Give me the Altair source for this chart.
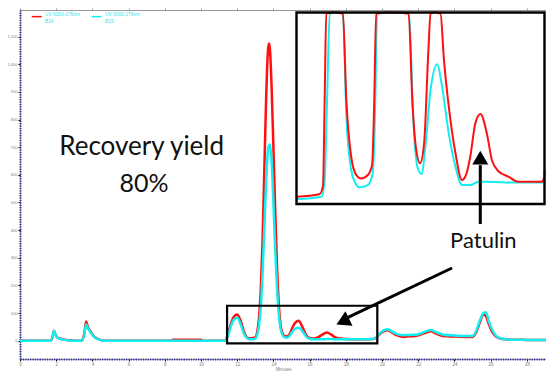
import altair as alt
import pandas as pd

# ---------------- data ----------------
main_time = [0, 1.7, 1.8, 1.88, 1.95, 2.05, 2.2, 2.4, 2.7, 3.0, 3.4, 3.55, 3.65, 3.75, 3.9, 4.1, 4.4, 4.7,
             8.35, 8.45, 10.0, 10.1, 11.3, 11.45, 11.6, 11.8, 12.0, 12.2, 12.4, 12.6, 12.8, 13.0, 13.1, 13.2,
             13.3, 13.4, 13.5, 13.6, 13.7, 13.75, 13.8, 13.9, 14.0, 14.1, 14.2, 14.3, 14.4, 14.5, 14.6, 14.75,
             14.9, 15.05, 15.2, 15.4, 15.6, 15.8, 16.0, 16.2, 16.45, 16.7, 16.95, 17.2, 17.45, 17.7, 18.0, 18.5,
             19.0, 19.5, 19.7, 19.9, 20.1, 20.3, 20.5, 20.8, 21.2, 21.5, 21.9, 22.2, 22.45, 22.7, 22.95, 23.4,
             24.0, 24.6, 25.0, 25.2, 25.4, 25.6, 25.75, 25.9, 26.1, 26.3, 26.55, 26.8, 27.1, 28.0, 29.5]
b14 = [0, 0, 15, 36, 25, 13, 8, 5, 2, 0, 0, 25, 70, 50, 33, 15, 4, 0,
       0, 4, 4, 0, 0, 15, 50, 85, 95, 70, 28, 10, 9, 12, 30, 80,
       180, 360, 620, 880, 1050, 1075, 1060, 920, 700, 470, 270, 130, 55, 28, 18, 15,
       25, 48, 65, 72, 50, 22, 10, 8, 12, 22, 30, 22, 11, 8, 6, 5,
       5, 6, 12, 25, 35, 38, 32, 20, 14, 16, 18, 24, 30, 34, 27, 17,
       15, 14, 14, 30, 65, 95, 88, 60, 30, 15, 8, 5, 4, 3, 2]
b15 = [0, 0, 15, 36, 25, 12, 7, 4, 1, 0, 0, 20, 60, 45, 30, 14, 3, 0,
       0, 0, 0, 0, 0, 12, 42, 75, 83, 58, 22, 7, 5, 7, 20, 55,
       120, 240, 410, 580, 690, 705, 710, 650, 500, 330, 190, 95, 42, 22, 13, 11,
       18, 33, 44, 47, 35, 16, 7, 5, 5, 5, 6, 6, 5, 5, 5, 5,
       5, 6, 14, 28, 38, 42, 36, 25, 20, 21, 22, 28, 35, 39, 32, 22,
       19, 17, 17, 35, 72, 100, 103, 70, 38, 18, 9, 5, 4, 3, 2]

# zoomed inset (same units: minutes / mAU)
inset_red_time = [10.17, 11.04, 11.16, 11.22, 11.28, 11.55, 11.9, 12.03, 12.21, 12.4, 12.58, 12.83, 12.99,
                  13.07, 13.14, 13.7, 14.35, 14.49, 14.62, 14.78, 14.93, 15.09, 15.17, 15.35, 15.54, 15.67,
                  15.85, 16.1, 16.34, 16.5, 16.65, 16.84, 17.03, 17.27, 17.46, 17.7, 18.07, 18.44, 19.31,
                  19.56, 19.74]
inset_red = [0.4, 1.3, 4.1, 31, 58.6, 95, 58.6, 31, 13.1, 7.3, 6.2, 7.3, 10.5,
             31, 58.6, 1075, 58.6, 31, 16.3, 11, 17.4, 47, 58.6, 70, 58.6, 43.8,
             29, 14.2, 5.7, 7.5, 13.1, 23.7, 26.7, 20.5, 12, 8.5, 6.8, 5.2, 5.2,
             6.8, 8.9]
inset_cyan_time = [10.17, 11.1, 11.22, 11.31, 11.41, 11.65, 11.9, 12.03, 12.21, 12.35, 12.52, 12.83, 13.01,
                   13.11, 13.17, 13.75, 14.37, 14.52, 14.68, 14.83, 14.99, 15.17, 15.42, 15.6, 15.85, 16.1,
                   16.34, 16.65, 16.96, 17.21, 17.95, 19.68, 19.8]
inset_cyan = [-0.4, 0.4, 5.7, 31, 58.6, 85, 58.6, 25.8, 8.9, 5, 3.4, 4.1, 7.8,
              31, 58.6, 710, 58.6, 25.8, 9.9, 7.6, 17.4, 34.3, 42.5, 35.3, 20.5, 9.9,
              4.1, 4.1, 5.2, 5.2, 4.9, 4.9, 6]

x_ticks = list(range(0, 29, 2))
y_ticks = list(range(0, 1101, 100))

legend_names = ["UV 6000-276nm", "B14", "UV 6000-276nm", "B15"]
annot_texts = ["Recovery yield", "80%", "Patulin"]

# ---------------- scales / layout ----------------
X_DOM = [0, 29.06]
Y_DOM = [-66, 1196]
INSET_X_DOM = [10.17, 19.42]
INSET_Y_DOM = [-1.9, 58.9]
INSET_X_RANGE = [276.5, 524.5]
INSET_Y_RANGE = [194, 2.5]

RED = "#ff1010"
CYAN = "#12eef0"

xs = alt.Scale(domain=X_DOM, nice=False, zero=False)
ys = alt.Scale(domain=Y_DOM, nice=False, zero=False)

x_axis = alt.Axis(values=x_ticks, title="Minutes", labelFontSize=4.5, labelColor="#808080",
                  labelFont="Liberation Sans", tickColor="#000000", tickSize=2, tickWidth=1,
                  domainColor="#30309a", domainWidth=2, domainDash=[1.2, 1.2], grid=False,
                  titleFontSize=4.5, titleFontWeight="normal", titleColor="#808080",
                  titleFont="Liberation Sans", titlePadding=0, labelPadding=0.5, labelFlush=False)
y_axis = alt.Axis(values=y_ticks, title=None, labelFontSize=4, labelColor="#808080",
                  labelFont="Liberation Sans", tickColor="#000000", tickSize=2, tickWidth=1,
                  domainColor="#30309a", domainWidth=2, domainDash=[1.2, 1.2], grid=False,
                  labelPadding=1)

main_df = pd.DataFrame({"t": main_time, "B14": b14, "B15": b15})

red_line = alt.Chart(main_df).mark_line(color=RED, strokeWidth=2.5, interpolate="monotone").encode(
    x=alt.X("t:Q", scale=xs, axis=x_axis), y=alt.Y("B14:Q", scale=ys, axis=y_axis))
cyan_line = alt.Chart(main_df).mark_line(color=CYAN, strokeWidth=2.5, interpolate="monotone").encode(
    x=alt.X("t:Q", scale=xs, axis=x_axis), y=alt.Y("B15:Q", scale=ys, axis=y_axis))

box_df = pd.DataFrame({"x1": [11.44], "x2": [19.74], "y1": [-9.4], "y2": [126.6]})
box = alt.Chart(box_df).mark_rect(fillOpacity=0, stroke="black", strokeWidth=2.2).encode(
    x=alt.X("x1:Q", scale=xs, axis=x_axis), x2="x2:Q",
    y=alt.Y("y1:Q", scale=ys, axis=y_axis), y2="y2:Q")

main_group = alt.layer(red_line, cyan_line, box)

# ---------------- inset ----------------
xi = alt.Scale(domain=INSET_X_DOM, range=INSET_X_RANGE, clamp=True, nice=False, zero=False)
yi = alt.Scale(domain=INSET_Y_DOM, range=INSET_Y_RANGE, clamp=True, nice=False, zero=False)
frame_df = pd.DataFrame({"x1": [INSET_X_DOM[0]], "x2": [INSET_X_DOM[1]],
                         "y1": [INSET_Y_DOM[0]], "y2": [INSET_Y_DOM[1]]})
inset_bg = alt.Chart(frame_df).mark_rect(fill="white").encode(
    x=alt.X("x1:Q", scale=xi, axis=None), x2="x2:Q",
    y=alt.Y("y1:Q", scale=yi, axis=None), y2="y2:Q")
ir_df = pd.DataFrame({"t": inset_red_time, "v": inset_red})
ic_df = pd.DataFrame({"t": inset_cyan_time, "v": inset_cyan})
inset_red_line = alt.Chart(ir_df).mark_line(color=RED, strokeWidth=2, interpolate="monotone").encode(
    x=alt.X("t:Q", scale=xi, axis=None), y=alt.Y("v:Q", scale=yi, axis=None))
inset_cyan_line = alt.Chart(ic_df).mark_line(color=CYAN, strokeWidth=2, interpolate="monotone").encode(
    x=alt.X("t:Q", scale=xi, axis=None), y=alt.Y("v:Q", scale=yi, axis=None))
inset_border = alt.Chart(frame_df).mark_rect(fillOpacity=0, stroke="black", strokeWidth=2.4).encode(
    x=alt.X("x1:Q", scale=xi, axis=None), x2="x2:Q",
    y=alt.Y("y1:Q", scale=yi, axis=None), y2="y2:Q")
inset_group = alt.layer(inset_bg, inset_cyan_line, inset_red_line, inset_border)

# ---------------- annotations ----------------
xa = alt.Scale(domain=X_DOM, nice=False, zero=False)
ya = alt.Scale(domain=Y_DOM, nice=False, zero=False)
top_axis = alt.Axis(orient="top", values=x_ticks, labels=False, ticks=True, tickSize=2,
                    tickColor="#999999", domain=False, grid=False, title=None)

leg_line_df = pd.DataFrame({"x1": [0.65, 3.96], "x2": [1.20, 4.51], "y": [1172, 1172], "c": [RED, CYAN]})
leg_lines = alt.Chart(leg_line_df).mark_rule(strokeWidth=1.5).encode(
    x=alt.X("x1:Q", scale=xa, axis=top_axis), x2="x2:Q",
    y=alt.Y("y:Q", scale=ya, axis=None), color=alt.Color("c:N", scale=None))
leg_text_df = pd.DataFrame({"x": [1.38, 1.38, 4.70, 4.70], "y": [1178, 1154, 1178, 1154],
                            "txt": legend_names})
leg_text = alt.Chart(leg_text_df).mark_text(align="left", baseline="middle", fontSize=4.8,
                                            font="Liberation Sans", color="#2fe3f0").encode(
    x=alt.X("x:Q", scale=xa, axis=top_axis), y=alt.Y("y:Q", scale=ya, axis=None), text="txt:N")

shaft_df = pd.DataFrame({"x1": [25.43, 23.87], "y1": [635, 263], "x2": [25.43, 18.09], "y2": [422, 83.9]})
shafts = alt.Chart(shaft_df).mark_rule(color="black", strokeWidth=3).encode(
    x=alt.X("x1:Q", scale=xa, axis=top_axis), y=alt.Y("y1:Q", scale=ya, axis=None),
    x2="x2:Q", y2="y2:Q")
head_df = pd.DataFrame({"x": [25.43, 17.83], "y": [662, 69.4], "ang": [0, 244]})
heads = alt.Chart(head_df).mark_point(shape="triangle-up", filled=True, color="black",
                                      opacity=1, size=256, strokeWidth=0).encode(
    x=alt.X("x:Q", scale=xa, axis=top_axis), y=alt.Y("y:Q", scale=ya, axis=None),
    angle=alt.Angle("ang:Q", scale=None))

label_df = pd.DataFrame({"x": [6.72, 6.85, 25.6], "y": [671.6, 539, 334], "txt": annot_texts,
                         "s": [26, 25, 22]})
labels = alt.Chart(label_df).mark_text(align="center", baseline="alphabetic", font="Lato",
                                       color="#111111").encode(
    x=alt.X("x:Q", scale=xa, axis=top_axis), y=alt.Y("y:Q", scale=ya, axis=None),
    text="txt:N", size=alt.Size("s:Q", scale=None))

annot_group = alt.layer(leg_lines, leg_text, shafts, heads, labels)

chart = alt.layer(main_group, inset_group, annot_group).resolve_scale(
    x="independent", y="independent"
).properties(
    width=526, height=349,
    autosize=alt.AutoSizeParams(type="none"),
    padding={"left": 12, "top": 2, "right": 0, "bottom": 12},
).configure_view(stroke="#9a9a9a", strokeWidth=1)

chart.save("out.html", embed_options={"renderer": "svg", "actions": False})
